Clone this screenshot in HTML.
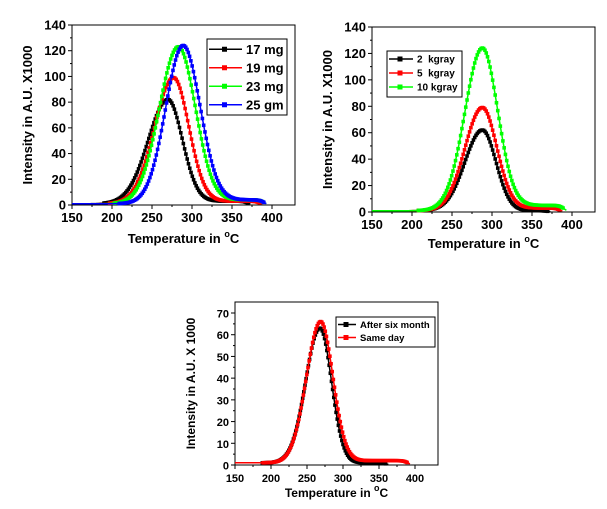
<!DOCTYPE html>
<html><head><meta charset="utf-8"><style>
body{margin:0;background:#fff;}
svg text{font-family:"Liberation Sans",Arial,sans-serif;font-weight:bold;fill:#000;}
</style></head><body>
<svg id="s" width="607" height="504" viewBox="0 0 607 504" xmlns="http://www.w3.org/2000/svg"></svg>
<script>
const S=document.getElementById('s');let h='';
function curve(x,p){let s=x<p.c?p.l:p.r;let y=p.a*Math.exp(-0.5*((x-p.c)/s)**2);
y+=p.t/(1+Math.exp(-(x-p.c-20)/5))/(1+Math.exp((x-p.e)/3));
y+=(p.b||1)/(1+Math.exp((x-p.c+40)/6))*(x<p.c?1:0);return y;}
function chart(o){const X=v=>o.x0+(v-150)*o.kx,Y=v=>o.y0-v*o.ky;
h+=`<rect x="${o.x0}" y="${o.yt}" width="${o.xr-o.x0}" height="${o.y0-o.yt}" fill="none" stroke="#000" stroke-width="1"/>`;
for(let v=150;v<=400;v+=50){h+=`<line x1="${X(v)}" y1="${o.y0}" x2="${X(v)}" y2="${o.y0+4}" stroke="#000"/><text x="${X(v)}" y="${o.y0+17}" font-size="${o.fs}" text-anchor="middle">${v}</text>`;
if(v<400)h+=`<line x1="${X(v+25)}" y1="${o.y0}" x2="${X(v+25)}" y2="${o.y0+2}" stroke="#000"/>`;}
for(let v=0;v<=o.ym;v+=o.ys){h+=`<line x1="${o.x0-4}" y1="${Y(v)}" x2="${o.x0}" y2="${Y(v)}" stroke="#000"/><text x="${o.x0-6}" y="${Y(v)+4.5}" font-size="${o.fs}" text-anchor="end">${v}</text>`;
if(v<o.ym)h+=`<line x1="${o.x0-2}" y1="${Y(v+o.ys/2)}" x2="${o.x0}" y2="${Y(v+o.ys/2)}" stroke="#000"/>`;}
const cx=(o.x0+o.xr)/2,cy=(o.yt+o.y0)/2;
h+=`<text x="${cx}" y="${o.y0+o.xo}" font-size="${o.tf}" text-anchor="middle">Temperature in <tspan dy="-6" font-size="9">o</tspan><tspan dy="6">C</tspan></text>`;
h+=`<text transform="translate(${o.x0-o.yo},${cy}) rotate(-90)" font-size="${o.tf}" text-anchor="middle">${o.yl}</text>`;
o.ser.forEach(p=>{let pts=[];for(let x=150;x<=p.e+3;x+=1){pts.push(X(x).toFixed(1)+','+Y(curve(x,p)).toFixed(1));}
h+=`<polyline points="${pts.join(' ')}" fill="none" stroke="${p.col}" stroke-width="1.5"/>`;
for(let x=Math.max(150,p.c-80);x<=p.e;x+=1.6){const px=X(x),py=Y(curve(x,p));h+=`<rect x="${px-1.8}" y="${py-1.8}" width="3.6" height="3.6" fill="${p.col}"/>`;}});
const L=o.leg;h+=`<rect x="${L.x}" y="${L.y}" width="${L.w}" height="${L.h}" fill="#fff" stroke="#000"/>`;
o.ser.forEach((p,i)=>{const yy=L.y+L.dy*(i+0.5)+1;h+=`<line x1="${L.x+2}" y1="${yy}" x2="${L.x+L.lw}" y2="${yy}" stroke="${p.col}" stroke-width="1.5"/><rect x="${L.x+L.lw/2-2.5}" y="${yy-2.5}" width="5" height="5" fill="${p.col}"/><text x="${L.x+L.lw+4}" y="${yy+L.fs/2.8}" font-size="${L.fs}">${p.n}</text>`;});}
chart({x0:72,xr:295,yt:25,y0:205,kx:0.8,ky:180/140,ym:140,ys:20,fs:13,tf:13,xo:38,yo:40,yl:"Intensity in A.U. X1000",
leg:{x:207,y:39,w:80,h:76,dy:18.5,lw:35,fs:13},
ser:[{n:"17 mg",col:"#000",c:270,a:82,l:25,r:18,t:3,e:370},{n:"19 mg",col:"#f00",c:277,a:99,l:24,r:19,t:3,e:385},
{n:"23 mg",col:"#0f0",c:283,a:123,l:24,r:21,t:4,e:390},{n:"25 gm",col:"#00f",c:289,a:124,l:22,r:21,t:4,e:390}]});
chart({x0:372,xr:595,yt:27,y0:212,kx:0.8,ky:185/140,ym:140,ys:20,fs:13,tf:13,xo:36,yo:40,yl:"Intensity in A.U. X1000",
leg:{x:387,y:51,w:75,h:46,dy:14,lw:26,fs:10},
ser:[{n:"2 &#160;kgray",col:"#000",c:288,a:62,l:22,r:17,t:1,e:370},{n:"5 &#160;kgray",col:"#f00",c:288,a:79,l:22,r:18,t:3,e:385},
{n:"10 kgray",col:"#0f0",c:288,a:124,l:22,r:19,t:5,e:390}]});
chart({x0:235,xr:438,yt:302,y0:465,kx:0.72,ky:152/70,ym:70,ys:10,fs:11,tf:12,xo:32,yo:40,yl:"Intensity in A.U. X  1000",
leg:{x:336,y:317,w:99,h:30,dy:13,lw:20,fs:9.5},
ser:[{n:"After six month",col:"#000",c:268,a:63,l:20,r:16,t:1,e:360},{n:"Same day",col:"#f00",c:269,a:66,l:20,r:17,t:2,e:390}]});
S.innerHTML=h;
</script>
</body></html>
